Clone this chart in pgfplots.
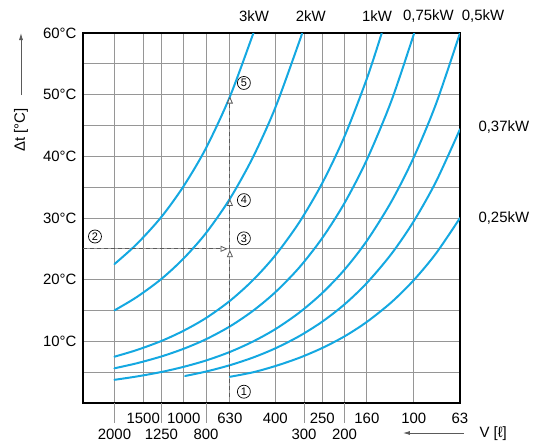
\documentclass[border=0pt]{standalone}
\usepackage{fontspec}
\setmainfont{Liberation Sans}
\usepackage{pgfplots}
\pgfplotsset{compat=1.18}
\usetikzlibrary{arrows.meta}
\definecolor{curve}{RGB}{20,168,225}
\definecolor{gridc}{RGB}{150,150,150}
\definecolor{guide}{RGB}{90,90,90}
\begin{document}
\begin{tikzpicture}[font=\fontsize{15}{18}\selectfont]
\useasboundingbox (-83bp,-38bp) rectangle (452bp,403bp);
\begin{axis}[
  at={(0,0)}, anchor=south west,
  scale only axis, width=377bp, height=370bp,
  xmode=log, x dir=reverse, xmin=63, xmax=2740,
  ymin=0, ymax=60,
  xtick={2000,1500,1250,1000,800,630,400,300,250,200,160,100},
  xticklabels={},
  ytick={10,20,30,40,50,60},
  yticklabels={10°C,20°C,30°C,40°C,50°C,60°C},
  minor ytick={5,15,25,35,45,55},
  grid=both,
  major grid style={gridc, line width=0.9bp},
  minor grid style={gridc, line width=0.9bp},
  major tick length=0pt, minor tick length=0pt,
  axis line style={black, line width=1.8bp},
  yticklabel style={font=\fontsize{15}{18}\selectfont, xshift=-3bp},
  clip mode=individual,
  every axis plot/.append style={line cap=round},
]
% curves: 3kW, 2kW, 1kW, 0.75kW, 0.5kW, 0.37kW, 0.25kW
\addplot[curve, line width=2bp, smooth] coordinates {(2000,22.53) (1600,25.77) (1250,30.18) (1000,35.19) (800,41.34) (630,49.68) (500,59.79) (498,60)};
\addplot[curve, line width=2bp, smooth] coordinates {(2000,15.02) (1600,17.18) (1250,20.12) (1000,23.46) (800,27.56) (630,33.12) (500,39.86) (400,47.88) (315,58.54) (306,60)};
\addplot[curve, line width=2bp, smooth] coordinates {(2000,7.51) (1600,8.59) (1250,10.06) (1000,11.73) (800,13.78) (630,16.56) (500,19.93) (400,23.94) (315,29.27) (250,35.66) (200,43.25) (160,52.6) (137.8,60)};
\addplot[curve, line width=2bp, smooth] coordinates {(2000,5.63) (1600,6.44) (1250,7.55) (1000,8.80) (800,10.34) (630,12.42) (500,14.95) (400,17.96) (315,21.95) (250,26.75) (200,32.44) (160,39.45) (125,49.05) (99.6,60)};
\addplot[curve, line width=2bp, smooth] coordinates {(2000,3.76) (1600,4.30) (1250,5.03) (1000,5.87) (800,6.89) (630,8.28) (500,9.97) (400,11.97) (315,14.64) (250,17.83) (200,21.63) (160,26.3) (125,32.7) (100,39.85) (80,48.55) (63,60)};
\addplot[curve, line width=2bp, smooth] coordinates {(986,4.38) (800,5.10) (630,6.13) (500,7.37) (400,8.86) (315,10.83) (250,13.19) (200,16.0) (160,19.46) (125,24.2) (100,29.49) (80,35.93) (63,44.4)};
\addplot[curve, line width=2bp, smooth] coordinates {(630,4.25) (500,4.98) (400,5.99) (315,7.32) (250,8.92) (200,10.81) (160,13.15) (125,16.35) (100,19.93) (80,24.28) (63,30.0)};
% guide lines
\addplot[guide, line width=0.8bp, line cap=butt, dash pattern=on 4bp off 3bp, -{Triangle[open, length=7bp, width=6bp, fill=white]}] coordinates {(630,1) (630,24.8)};
\addplot[guide, line width=0.8bp, line cap=butt, dash pattern=on 4bp off 3bp, -{Triangle[open, length=7bp, width=6bp, fill=white]}] coordinates {(630,25) (630,33.1)};
\addplot[guide, line width=0.8bp, line cap=butt, dash pattern=on 4bp off 3bp, -{Triangle[open, length=7bp, width=6bp, fill=white]}] coordinates {(630,33.1) (630,49.7)};
\addplot[guide, line width=0.8bp, line cap=butt, dash pattern=on 4bp off 3bp, -{Triangle[open, length=7bp, width=6bp, fill=white]}] coordinates {(2740,25) (645,25)};
% circled numbers
\tikzset{cn/.style={circle, draw, line width=0.7bp, inner sep=0pt, minimum size=13bp, font=\fontsize{11}{12}\selectfont}}
\node[cn, xshift=14bp] at (axis cs:630,1.83) {1};
\node[cn] at (axis cs:2430,27.0) {2};
\node[cn, xshift=14bp] at (axis cs:630,26.7) {3};
\node[cn, xshift=14bp] at (axis cs:630,32.9) {4};
\node[cn, xshift=14bp] at (axis cs:630,51.9) {5};
% bottom tick labels
\foreach \v in {1500,1000,630,400,250,160,100,63} {
  \edef\tmp{\noexpand\node at ([yshift=-15bp]axis cs:\v,0) {\v};}\tmp
}
\foreach \v in {2000,1250,800,300,200} {
  \edef\tmp{\noexpand\node at ([yshift=-31bp]axis cs:\v,0) {\v};
  \noexpand\draw[gridc, line width=0.9bp] (axis cs:\v,0) -- ([yshift=-20bp]axis cs:\v,0);}\tmp
}
% top labels
\node at ([yshift=17bp]axis cs:494.6,60) {3kW};
\node at ([yshift=17bp]axis cs:280.6,60) {2kW};
\node at ([yshift=17bp]axis cs:144.5,60) {1kW};
\node at ([yshift=17bp]axis cs:86.4,60) {0,75kW};
\node at ([yshift=17bp]axis cs:50.0,60) {0,5kW};
% right labels
\node[anchor=west] at ([xshift=15bp]axis cs:63,44.75) {0,37kW};
\node[anchor=west] at ([xshift=15bp]axis cs:63,30.0) {0,25kW};
% axis titles
\node[rotate=90] at ([xshift=-62bp]rel axis cs:0,0.738) {Δt [°C]};
\draw[guide, line width=0.8bp, -{Latex[length=7bp, width=4bp]}] ([xshift=-62bp]rel axis cs:0,0.832) -- ([xshift=-62bp]rel axis cs:0,1);
\node[anchor=west] at ([xshift=16bp, yshift=-31bp]rel axis cs:1,0) {V [ℓ]};
\draw[guide, line width=0.8bp, -{Latex[length=7bp, width=4bp]}] ([xshift=4bp, yshift=-30bp]rel axis cs:1,0) -- ([xshift=-57bp, yshift=-30bp]rel axis cs:1,0);
\end{axis}
\end{tikzpicture}
\end{document}
